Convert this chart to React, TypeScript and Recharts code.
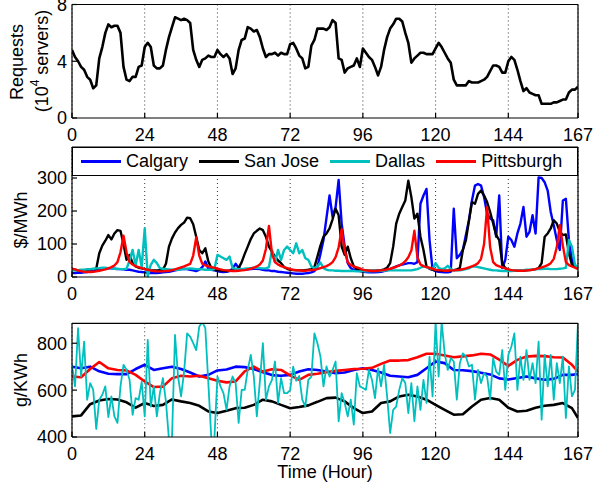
import { LineChart, Line, XAxis, YAxis, CartesianGrid } from 'recharts'

const FONT = '"Liberation Sans", Arial, Helvetica, sans-serif'
const CYAN = '#00BFBF'

const HOURS = Array.from({ length: 168 }, (_, i) => i)
const X_TICKS = [0, 24, 48, 72, 96, 120, 144, 167]

// requests, 10^4 servers
const requests = [
  4.8, 4.3, 4.0, 3.6, 3.4, 2.9, 2.7, 2.1, 2.3, 4.2, 5.0, 6.0,
  6.6, 6.4, 6.5, 6.5, 6.0, 3.6, 2.7, 2.6, 2.9, 2.9, 3.6, 3.7,
  5.0, 5.3, 5.0, 3.7, 3.5, 3.5, 3.7, 4.8, 5.7, 6.4, 7.1, 7.0,
  6.9, 7.0, 6.9, 6.7, 4.8, 4.1, 3.6, 4.1, 4.2, 4.4, 4.3, 4.3,
  4.8, 4.5, 4.3, 4.5, 4.2, 3.1, 3.5, 4.8, 5.5, 5.6, 6.4, 6.3,
  6.1, 6.2, 5.7, 4.9, 4.3, 4.5, 4.5, 4.6, 4.4, 4.6, 4.5, 4.5,
  5.2, 5.3, 4.9, 4.4, 4.2, 3.5, 3.6, 5.1, 5.5, 6.3, 6.3, 6.3,
  6.2, 6.4, 6.9, 6.7, 4.2, 4.1, 3.2, 3.5, 3.6, 3.7, 4.2, 3.6,
  4.9, 4.6, 4.3, 4.1, 3.6, 3.0, 3.6, 4.8, 5.7, 6.3, 6.6, 7.0,
  7.0, 6.8, 6.0, 5.3, 3.9, 4.2, 4.4, 4.6, 4.6, 4.5, 4.5, 4.5,
  4.9, 5.3, 5.0, 4.6, 4.2, 3.9, 2.7, 2.3, 2.3, 2.3, 2.3, 2.6,
  2.5, 2.5, 2.5, 2.6, 2.7, 2.9, 3.3, 3.7, 3.7, 3.6, 3.2, 3.2,
  4.0, 4.3, 4.1, 3.4, 2.6, 1.9, 2.1, 1.8, 1.7, 1.6, 1.6, 1.0,
  1.0, 1.0, 1.0, 1.1, 1.1, 1.2, 1.3, 1.3, 1.8, 2.0, 2.0, 2.2,
]

// electricity price, $/MWh
const priceCalgary = [
  12, 12, 13, 13, 14, 15, 17, 20,
  22, 24, 25, 25, 26, 26, 25, 24, 24, 23, 22, 22, 20, 18, 16, 15,
  14, 13, 12, 12, 12, 13, 14, 15, 16, 18, 20, 22, 24, 25, 24, 22,
  20, 18, 22, 30, 47, 25, 22, 20,
  18, 16, 15, 16, 18, 25, 40, 28,
  22, 22, 23, 24, 25, 25, 24, 22, 20, 20, 18, 18, 16, 15, 14, 13,
  12, 11, 10, 10, 10, 11, 12, 14, 18, 30,
  70, 112, 180, 247, 182, 212, 294, 162, 92, 42, 27, 22, 20, 18,
  16, 15, 14, 14, 14, 15, 16, 18, 20, 24, 28, 32, 35, 38, 40, 42,
  42, 40, 45, 222, 247, 267, 112, 22,
  18, 16, 15, 14, 14, 16,
  207, 57, 67, 82, 127, 172, 232, 277, 282, 277, 242, 192, 177, 172, 122, 247, 27, 52,
  122, 112, 92, 132, 162, 212, 122, 137, 187, 132, 302, 300,
  287, 262, 197, 157, 112, 82, 232, 237, 112, 52, 32, 28,
]

const priceSanJose = [
  22, 22, 20, 20, 21, 22, 23, 24, 25,
  72, 95, 110, 127, 114, 132, 142, 140, 100, 52, 67, 42, 32, 28, 26,
  24, 22, 20, 20, 20, 21, 22,
  40, 92, 117, 135, 148, 158, 165, 180, 178, 160, 122, 82, 72, 87, 47, 27, 22,
  20, 20, 19, 18, 19, 20, 22,
  27, 45, 70, 92, 115, 132, 140, 147, 142, 122, 92, 77, 62, 50, 42, 30, 25,
  22, 21, 20, 20, 20, 21, 22, 24, 30,
  62, 95, 122, 132, 147, 175, 207, 187, 92, 67, 92, 57, 32, 25, 22,
  20, 20, 19, 19, 19, 20, 21, 23, 28,
  42, 92, 162, 192, 212, 232, 292, 242, 177, 192, 122, 82, 32, 25, 22,
  20, 20, 19, 19, 19, 20, 21, 23, 27,
  82, 112, 170, 227, 222, 252, 262, 247, 227, 197, 162, 127, 112, 42, 27,
  22, 20, 19, 19, 19, 19, 20, 21, 22, 24, 27,
  42, 122, 132, 147, 172, 162, 137, 127, 129, 72, 37, 32, 30,
]

const priceDallas = [
  20, 20, 21, 22, 22, 23, 24, 25, 26, 27, 28, 28, 27, 26, 25, 25,
  24, 24, 25, 50, 82, 35, 82, 30, 147, 2, 37, 52, 42, 27, 25, 24,
  23, 22, 22, 22, 23, 24, 25, 26, 25, 24, 24, 23, 22, 22, 22, 24,
  67, 62, 57, 52, 62, 27, 25, 24, 24, 25, 26, 27, 28, 28, 27, 26,
  26, 30, 82, 45, 82, 52, 82, 92, 82, 72, 102, 72, 82, 57, 52, 32,
  27, 32, 44, 27, 22, 20, 20, 19, 19, 18, 18, 18, 18, 18, 17, 17,
  17, 17, 17, 18, 18, 18, 19, 19, 20, 20, 20, 20, 20, 20, 20, 20,
  20, 22, 24, 28, 32, 30, 26, 24, 42, 28, 24, 26, 34, 24, 20, 20,
  20, 22, 24, 26, 32, 32, 30, 28, 26, 24, 22, 20, 20, 19, 18, 18,
  18, 18, 19, 20, 20, 21, 22, 22, 22, 23, 24, 24, 25, 25, 24, 24,
  24, 25, 26, 28, 112, 92, 37, 30,
]

const pricePittsburgh = [
  25, 23, 20, 18, 16, 15, 15, 16, 17, 19, 21, 23,
  26, 30, 35, 45, 75, 125, 75, 45, 38, 33, 30, 27,
  24, 22, 20, 18, 17, 17, 17, 18, 19, 21, 23, 26,
  29, 32, 36, 40, 65, 120, 65, 40, 35, 32, 30, 28,
  25, 23, 21, 20, 19, 18, 18, 19, 20, 21, 23, 25,
  28, 32, 38, 50, 85, 155, 70, 45, 38, 33, 30, 27,
  24, 22, 21, 20, 19, 19, 20, 21, 22, 24, 27, 30,
  33, 38, 45, 60, 90, 145, 80, 45, 36, 32, 29, 26,
  22, 20, 19, 18, 18, 19, 20, 21, 23, 25, 28, 31,
  35, 40, 48, 60, 80, 140, 60, 38, 33, 30, 28, 25,
  22, 21, 20, 19, 19, 20, 20, 21, 22, 24, 26, 29,
  32, 36, 42, 55, 100, 212, 90, 45, 36, 32, 29, 26,
  23, 21, 20, 19, 19, 19, 20, 21, 22, 24, 26, 29,
  32, 36, 42, 55, 90, 157, 95, 45, 36, 32, 28, 24,
]

// carbon intensity, g/KWh (smooth series read every 3 hours)
const carbonHours = [
  0, 3, 6, 9, 12, 15, 18, 21, 24, 27, 30, 33, 36, 39, 42, 45, 48, 51, 54,
  57, 60, 63, 66, 69, 72, 75, 78, 81, 84, 87, 90, 93, 96, 99, 102, 105, 108, 111,
  114, 117, 120, 123, 126, 129, 132, 135, 138, 141, 144, 147, 150, 153, 156, 159,
  162, 165, 167,
]

const carbonCalgary = [
  700, 693, 700, 680, 670, 668, 668, 690, 708, 686, 693, 700, 690, 675, 658, 665, 684, 688, 700,
  698, 690, 676, 664, 661, 665, 679, 689, 686, 679, 672, 675, 686, 693, 686, 675, 661, 658, 655,
  665, 693, 722, 715, 686, 685, 681, 674, 667, 650, 645, 652, 658, 650, 644, 648,
  665, 665, 669,
]

const carbonSanJose = [
  488, 492, 540, 556, 562, 560, 548, 525, 545, 532, 537, 560, 552, 545, 533, 509, 502, 512, 523,
  525, 537, 559, 552, 537, 523, 528, 535, 550, 566, 568, 552, 523, 502, 509, 545, 552, 573, 580,
  573, 559, 537, 516, 495, 497, 530, 559, 566, 559, 525, 509, 512, 525, 533, 537,
  545, 523, 481,
]

const carbonPittsburgh = [
  658, 655, 690, 720, 693, 686, 684, 665, 637, 613, 615, 651, 661, 658, 661, 651, 640, 633, 637,
  680, 700, 679, 689, 686, 663, 644, 665, 670, 676, 682, 686, 690, 691, 695, 712, 726, 726, 728,
  740, 755, 755, 748, 740, 744, 748, 755, 752, 730, 703, 729, 743, 746, 745, 740,
  739, 708, 679,
]

const carbonDallas = [
  708, 616, 864, 658, 807, 559, 630, 601, 434, 559, 580, 616,
  485, 573, 488, 460, 616, 708, 686, 644, 495, 566, 559, 635,
  488, 814, 530, 616, 488, 587, 651, 552, 390, 395, 835, 658,
  573, 679, 842, 828, 800, 771, 871, 890, 864, 630, 390, 395,
  658, 616, 587, 516, 616, 658, 630, 460, 601, 601, 686, 750,
  658, 488, 637, 800, 559, 616, 644, 722, 545, 651, 587, 587,
  600, 700, 640, 660, 559, 530, 644, 658, 842, 800, 743, 616,
  701, 658, 686, 722, 467, 587, 545, 488, 559, 453, 672, 616,
  609, 601, 686, 644, 566, 693, 616, 708, 573, 417, 516, 530,
  601, 651, 630, 502, 630, 467, 616, 516, 644, 545, 743, 573,
  890, 658, 890, 757, 686, 736, 722, 559, 715, 757, 743, 701,
  708, 559, 686, 630, 672, 658, 559, 736, 679, 665, 771, 601,
  750, 785, 842, 601, 743, 644, 771, 644, 715, 630, 807, 474,
  750, 616, 750, 559, 715, 630, 743, 481, 701, 573, 601, 890,
]

const requestData = HOURS.map((h, i) => ({ hour: h, requests: requests[i] }))
const priceData = HOURS.map((h, i) => ({
  hour: h,
  calgary: priceCalgary[i],
  sanJose: priceSanJose[i],
  dallas: priceDallas[i],
  pittsburgh: pricePittsburgh[i],
}))
const dallasCarbonData = HOURS.map((h, i) => ({ hour: h, v: carbonDallas[i] }))
const smooth = (vals: number[]) => carbonHours.map((h, i) => ({ hour: h, v: vals[i] }))

const tickStyle = { fontSize: 18, fill: '#000', fontFamily: FONT }
const axisLine = { stroke: '#000', strokeWidth: 1.2 }

// box with inward ticks on all four sides, like the original plot
function boxAxes(domain: [number, number], yTicks: number[], clip = false) {
  return [
    <XAxis key="xb" xAxisId={0} dataKey="hour" type="number" domain={[0, 167]} ticks={X_TICKS}
      height={27} tick={tickStyle} tickSize={-5} tickMargin={15} axisLine={axisLine}
      tickLine={axisLine} interval={0} allowDataOverflow />,
    <XAxis key="xt" xAxisId="top" orientation="top" dataKey="hour" type="number" domain={[0, 167]}
      ticks={X_TICKS} height={1} tick={false} tickSize={-5} axisLine={axisLine} tickLine={axisLine} />,
    <YAxis key="yl" yAxisId={0} domain={domain} ticks={yTicks} width={72} tick={tickStyle}
      tickSize={-5} tickMargin={10} axisLine={axisLine} tickLine={axisLine} interval={0}
      allowDataOverflow={clip} />,
    <YAxis key="yr" yAxisId="right" orientation="right" domain={domain} ticks={yTicks} width={1}
      tick={false} tickSize={-5} axisLine={axisLine} tickLine={axisLine} />,
  ]
}

const grid = (
  <CartesianGrid horizontal={false} stroke="#000" strokeWidth={0.8} strokeDasharray="1 3" />
)

const legendItems = [
  { name: 'Calgary', color: '#0000FF' },
  { name: 'San Jose', color: '#000000' },
  { name: 'Dallas', color: CYAN },
  { name: 'Pittsburgh', color: '#FF0000' },
]

export default function App() {
  return (
    <div style={{ position: 'absolute', left: 0, top: 0, width: 595, height: 486, background: '#fff', fontFamily: FONT }}>
      <svg width={595} height={486} style={{ position: 'absolute', left: 0, top: 0 }}>
        <g fontFamily={FONT} fontSize={18} fill="#000" textAnchor="middle" dominantBaseline="central">
          <text transform="translate(17,62) rotate(-90)">Requests</text>
          <text transform="translate(42,61) rotate(-90)">
            (10<tspan dy={-7} fontSize={12}>4</tspan><tspan dy={7}> servers)</tspan>
          </text>
          <text transform="translate(21,220) rotate(-90)">$/MWh</text>
          <text transform="translate(21,380) rotate(-90)">g/KWh</text>
          <text x={325} y={472}>Time (Hour)</text>
        </g>
      </svg>

      <div style={{ position: 'absolute', left: 0, top: 0 }}>
        <LineChart width={595} height={145} data={requestData}
          margin={{ top: 3.5, right: 16, bottom: 0, left: 0 }}>
          {grid}
          {boxAxes([0, 8], [0, 4, 8])}
          <Line dataKey="requests" stroke="#000" strokeWidth={2.6} dot={false}
            strokeLinejoin="round" isAnimationActive={false} />
        </LineChart>
      </div>

      <div style={{ position: 'absolute', left: 0, top: 140 }}>
        <LineChart width={595} height={164} data={priceData}
          margin={{ top: 6, right: 16, bottom: 0, left: 0 }}>
          {grid}
          {boxAxes([0, 394], [0, 100, 200, 300])}
          <Line dataKey="calgary" stroke="#0000FF" strokeWidth={2.4} dot={false}
            strokeLinejoin="round" isAnimationActive={false} />
          <Line dataKey="sanJose" stroke="#000" strokeWidth={2.4} dot={false}
            strokeLinejoin="round" isAnimationActive={false} />
          <Line dataKey="dallas" stroke={CYAN} strokeWidth={2.4} dot={false}
            strokeLinejoin="round" isAnimationActive={false} />
          <Line dataKey="pittsburgh" stroke="#FF0000" strokeWidth={2.4} dot={false}
            strokeLinejoin="round" isAnimationActive={false} />
        </LineChart>
      </div>

      <div style={{
        position: 'absolute', left: 72, top: 147, width: 506, height: 29, boxSizing: 'border-box',
        border: '1.2px solid #000', background: '#fff', display: 'flex', alignItems: 'center',
        paddingLeft: 8, fontSize: 18, color: '#000',
      }}>
        {legendItems.map((it) => (
          <div key={it.name} style={{ display: 'flex', alignItems: 'center', marginRight: 11 }}>
            <span style={{ display: 'inline-block', width: 40, height: 2.5, background: it.color, marginRight: 5 }} />
            <span>{it.name}</span>
          </div>
        ))}
      </div>

      <div style={{ position: 'absolute', left: 0, top: 300 }}>
        <LineChart width={595} height={164}
          margin={{ top: 22.3, right: 16, bottom: 0, left: 0 }}>
          {grid}
          {boxAxes([400, 885], [400, 600, 800], true)}
          <Line data={smooth(carbonCalgary)} dataKey="v" stroke="#0000FF" strokeWidth={2.6}
            dot={false} strokeLinejoin="round" isAnimationActive={false} />
          <Line data={smooth(carbonSanJose)} dataKey="v" stroke="#000" strokeWidth={2.6}
            dot={false} strokeLinejoin="round" isAnimationActive={false} />
          <Line data={smooth(carbonPittsburgh)} dataKey="v" stroke="#FF0000" strokeWidth={2.6}
            dot={false} strokeLinejoin="round" isAnimationActive={false} />
          <Line data={dallasCarbonData} dataKey="v" stroke={CYAN} strokeWidth={1.8}
            dot={false} strokeLinejoin="round" isAnimationActive={false} />
        </LineChart>
      </div>
    </div>
  )
}
